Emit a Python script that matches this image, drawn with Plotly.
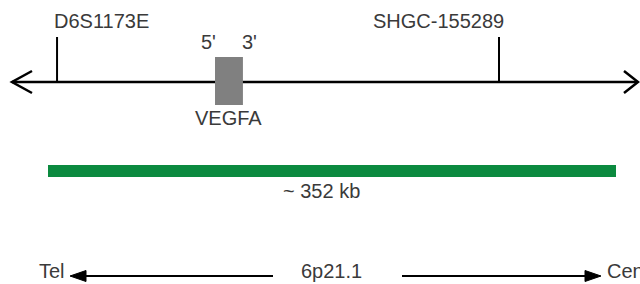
import plotly.graph_objects as go

# ---- data (genomic positions in kb from the left end of the mapped region) ----
marker_names = ["D6S1173E", "SHGC-155289"]
marker_kb = [5.6, 279.5]
gene_name = "VEGFA"
gene_start_kb = 103.5
gene_end_kb = 120.8
gene_end_labels = ["5'", "3'"]
region_kb = 352
region_label = "~ 352 kb"
band_label = "6p21.1"
direction_labels = ["Tel", "Cen"]

W, H = 640, 284
PX_PER_KB = 568 / region_kb          # drawing scale
LEFT_PAD = 48                         # pixels before region start

FONT = "Liberation Sans, Arial, sans-serif"
TXT = "#3a3a3a"
FS = 20

def px(x):
    return x / W

fig = go.Figure()

# marker ticks
tx, ty = [], []
for k in marker_kb:
    tx += [k, k, None]
    ty += [37, 82, None]
fig.add_trace(go.Scatter(x=tx, y=ty, mode="lines",
                         line=dict(color="black", width=2),
                         hoverinfo="skip", showlegend=False))

shapes = []
# main chromosome line with open arrowheads
shapes.append(dict(type="line", xref="paper", yref="y", x0=px(12), x1=px(637),
                   y0=82, y1=82, line=dict(color="black", width=2.5)))
shapes.append(dict(type="path", xref="paper", yref="y",
                   path=f"M {px(32)},71 L {px(12)},82 L {px(32)},93",
                   line=dict(color="black", width=2.5)))
shapes.append(dict(type="path", xref="paper", yref="y",
                   path=f"M {px(624)},71 L {px(638)},82 L {px(624)},93",
                   line=dict(color="black", width=2.5)))
# gene box
shapes.append(dict(type="rect", xref="x", yref="y", x0=gene_start_kb, x1=gene_end_kb,
                   y0=57, y1=105, fillcolor="#808080", line=dict(width=0)))
# region bar
shapes.append(dict(type="rect", xref="x", yref="y", x0=0, x1=region_kb,
                   y0=165, y1=177, fillcolor="#0b8a3f", line=dict(width=0)))
# bottom orientation arrows
shapes.append(dict(type="line", xref="paper", yref="y", x0=px(84), x1=px(273),
                   y0=276, y1=276, line=dict(color="black", width=2)))
shapes.append(dict(type="path", xref="paper", yref="y",
                   path=f"M {px(70)},276 L {px(86)},270.5 L {px(86)},281.5 Z",
                   fillcolor="black", line=dict(color="black", width=1)))
shapes.append(dict(type="line", xref="paper", yref="y", x0=px(402), x1=px(588),
                   y0=276, y1=276, line=dict(color="black", width=2)))
shapes.append(dict(type="path", xref="paper", yref="y",
                   path=f"M {px(601)},276 L {px(585)},270.5 L {px(585)},281.5 Z",
                   fillcolor="black", line=dict(color="black", width=1)))

ann = []
def add_text(text, x, y, xanchor="center", xref="x", xshift=0):
    ann.append(dict(text=text, x=x, y=y, xref=xref, yref="y", xanchor=xanchor,
                    yanchor="middle", showarrow=False, xshift=xshift,
                    font=dict(family=FONT, size=FS, color=TXT)))

# marker labels
add_text(marker_names[0], marker_kb[0], 21, xanchor="left", xshift=-5)
add_text(marker_names[1], marker_kb[1], 21, xanchor="right", xshift=7)
# gene labels
add_text(gene_end_labels[0], gene_start_kb, 42, xshift=-7)
add_text(gene_end_labels[1], gene_end_kb, 42, xshift=7)
add_text(gene_name, (gene_start_kb + gene_end_kb) / 2, 118)
# region label
add_text(region_label, region_kb / 2, 191, xshift=-11)
# bottom labels
add_text(direction_labels[0], px(67), 271, xanchor="right", xref="paper")
add_text(band_label, px(331), 271, xref="paper")
add_text(direction_labels[1], px(605), 271, xanchor="left", xref="paper")

fig.update_layout(
    width=W, height=H,
    margin=dict(l=0, r=0, t=0, b=0),
    paper_bgcolor="white", plot_bgcolor="white",
    shapes=shapes, annotations=ann,
    xaxis=dict(range=[-LEFT_PAD / PX_PER_KB, (W - LEFT_PAD) / PX_PER_KB],
               visible=False, fixedrange=True),
    yaxis=dict(range=[H, 0], visible=False, fixedrange=True),
    showlegend=False,
)

fig.write_html("out.html", config={"displayModeBar": False},
               post_script="document.body.style.margin='0';document.body.style.overflow='hidden';")
